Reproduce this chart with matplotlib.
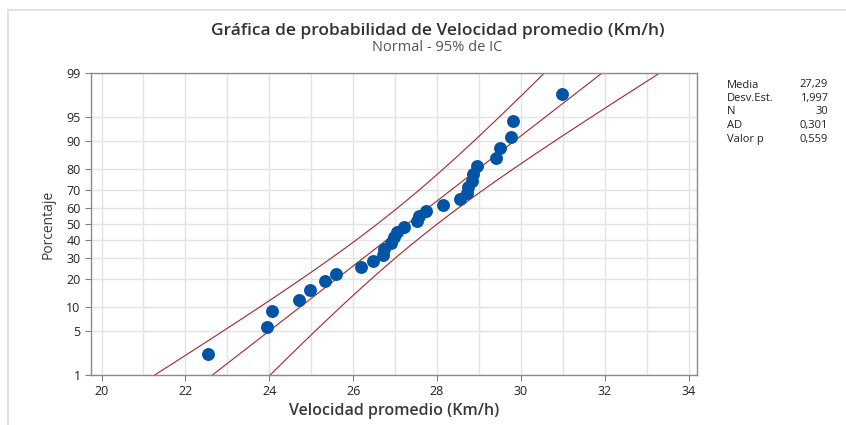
import numpy as np
import matplotlib
matplotlib.use("Agg")
import matplotlib.pyplot as plt
from matplotlib.lines import Line2D
from statistics import NormalDist

# sorted sample values (Km/h)
velocidad = [22.54, 23.95, 24.06, 24.70, 24.96, 25.33, 25.59, 26.18, 26.48, 26.71,
             26.74, 26.90, 26.98, 27.04, 27.21, 27.53, 27.56, 27.73, 28.15, 28.54,
             28.72, 28.75, 28.83, 28.86, 28.95, 29.41, 29.50, 29.77, 29.81, 30.97]
# plotted percentages (median ranks)
porcentaje = [2.3, 5.6, 8.9, 12.2, 15.5, 18.8, 22.0, 25.3, 28.6, 31.9,
              35.2, 38.5, 41.8, 45.1, 48.4, 51.6, 54.9, 58.2, 61.5, 64.8,
              68.1, 71.4, 74.7, 78.0, 81.3, 84.5, 87.8, 91.1, 94.4, 97.7]

media = 27.29
desv = 1.997
n = 30
stat_names = ["Media", "Desv.Est.", "N", "AD", "Valor p"]
stat_vals = ["27,29", "1,997", "30", "0,301", "0,559"]

yticks = [1, 5, 10, 20, 30, 40, 50, 60, 70, 80, 90, 95, 99]
xticks = [20, 22, 24, 26, 28, 30, 32, 34]

nd = NormalDist()
_ppf = np.vectorize(lambda v: nd.inv_cdf(v / 100.0), otypes=[float])
_cdf = np.vectorize(lambda v: nd.cdf(v) * 100.0, otypes=[float])


def forward(p):
    p = np.clip(np.asarray(p, dtype=float), 1e-9, 100 - 1e-9)
    return _ppf(p)


def inverse(z):
    return _cdf(np.asarray(z, dtype=float))


plt.rcParams["font.family"] = ["Open Sans", "DejaVu Sans"]

fig = plt.figure(figsize=(8.46, 4.25), dpi=100)
ax = fig.add_axes([0.1076, 0.1176, 0.7163, 0.7106])
ax.set_yscale("function", functions=(forward, inverse))

# fitted line and 95% confidence bands
z = np.linspace(-3.5, 3.5, 300)
x_fit = media + desv * z
se = desv / np.sqrt(n) * np.sqrt(1 + z ** 2 / 2)
p_line = inverse(z)
red = "#A8242A"
ax.plot(x_fit, p_line, color=red, lw=0.8, zorder=2)
ax.plot(x_fit - 1.96 * se, p_line, color=red, lw=0.8, zorder=2)
ax.plot(x_fit + 1.96 * se, p_line, color=red, lw=0.8, zorder=2)

ax.plot(velocidad, porcentaje, "o", color="#0054A6", ms=9.3, mec="none", zorder=3)

ax.set_xlim(19.75, 34.2)
ax.set_ylim(1, 99)
ax.set_xticks(xticks)
ax.set_xticks(np.arange(20, 35, 1), minor=True)
ax.set_yticks(yticks)
ax.set_yticklabels([str(t) for t in yticks])
ax.yaxis.set_minor_locator(matplotlib.ticker.NullLocator())
ax.grid(True, which="both", axis="x", color="#E3E3E3", lw=1.0)
ax.grid(True, which="major", axis="y", color="#E3E3E3", lw=1.0)
ax.set_axisbelow(True)
ax.tick_params(axis="both", which="major", labelsize=9, colors="#808080",
               labelcolor="#222222", length=4, width=0.8)
ax.tick_params(axis="x", which="minor", length=0)
for s in ax.spines.values():
    s.set_color("#8A8A8A")
    s.set_linewidth(1.0)

ax.set_xlabel("Velocidad promedio (Km/h)", fontsize=11.5, color="#3A3A3A",
              weight="semibold", labelpad=3)
ax.set_ylabel("Porcentaje", fontsize=10, color="#3A3A3A", labelpad=8)

fig.text(0.517, 0.928, "Gráfica de probabilidad de Velocidad promedio (Km/h)",
         ha="center", va="center", fontsize=12.5, weight="semibold", color="#333333")
fig.text(0.517, 0.888, "Normal - 95% de IC", ha="center", va="center",
         fontsize=10.5, color="#555555")

# stats table
for i, (name, val) in enumerate(zip(stat_names, stat_vals)):
    y = 1 - (85 + i * 13.5) / 425
    fig.text(727 / 846, y, name, ha="left", va="center", fontsize=8, color="#222222")
    fig.text(828 / 846, y, val, ha="right", va="center", fontsize=8, color="#222222")

# partial outer frame
fig.add_artist(Line2D([8 / 846, 8 / 846], [0, 1 - 10 / 425], transform=fig.transFigure,
                      color="#DDDDDD", lw=1.2))
fig.add_artist(Line2D([8 / 846, 1], [1 - 10 / 425, 1 - 10 / 425], transform=fig.transFigure,
                      color="#DDDDDD", lw=1.2))

fig.savefig("out.png", dpi=100)
